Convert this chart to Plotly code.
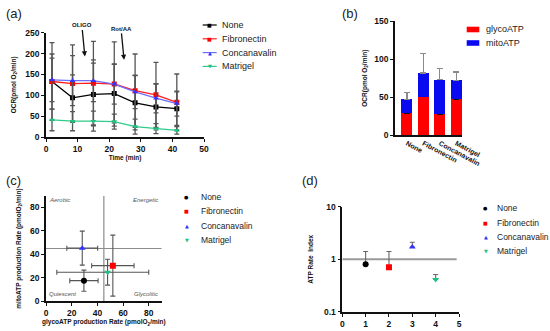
import plotly.graph_objects as go

W, H = 550, 331

# ---------------- data ----------------
series_names = ["None", "Fibronectin", "Concanavalin", "Matrigel"]
series_colors = ["#000000", "#FF2020", "#6F6FFF", "#2FCB8B"]
marker_colors = ["#000000", "#FF0000", "#3333FF", "#22C080"]
symbols_a = ["square", "square", "triangle-up", "triangle-down"]
symbols_cd = ["circle", "square", "triangle-up", "triangle-down"]
legend_glyphs = ["●", "■", "▲", "▼"]

# panel (a): OCR over time
time_min = [1.9, 8.4, 15.0, 21.6, 28.2, 34.8, 41.4]
ocr_none = [133, 94, 102, 104, 82, 72, 68]
ocr_fibro = [133, 128, 129, 127, 111, 101, 83]
ocr_conca = [137, 135, 135, 127, 108, 93, 80]
ocr_matri = [41, 38, 38, 37, 25, 20, 16]
err_none = [66, 55, 75, 70, 65, 55, 40]
err_fibro = [93, 93, 100, 101, 88, 78, 68]
err_conca = [52, 60, 50, 48, 40, 35, 30]
err_matri = [26, 23, 24, 18, 18, 12, 9]
ocr_series = [ocr_none, ocr_fibro, ocr_conca, ocr_matri]
ocr_errors = [err_none, err_fibro, err_conca, err_matri]
injection_labels = ["OLIGO", "Rot/AA"]
injection_times = [12.3, 24.7]
injection_ocr = [193, 185]

# panel (b): stacked ATP production
atp_groups = ["None", "Fibronectin", "Concanavalin", "Matrigel"]
glyco_atp = [28.6, 50.6, 27.7, 47.0]
mito_atp = [18.4, 31.2, 45.3, 25.0]
glyco_atp_err = [12, 17, 12, 22]
mito_atp_err = [9, 26, 15, 11]

# panel (c): energy map
glyco_rate = [29.5, 52.0, 28.2, 47.9]
mito_rate = [17.6, 30.4, 45.3, 24.8]
glyco_rate_err_plus = [11, 16.5, 12, 32]
glyco_rate_err_minus = [11, 16.5, 12, 39.5]
mito_rate_err = [9, 26, 14.5, 11]
quadrant_threshold = 45
map_limit = 90

# panel (d): ATP rate index
index_x = [1, 2, 3, 4]
atp_rate_index = [0.80, 0.70, 1.70, 0.41]
atp_rate_index_err = [0.60, 0.70, 0.40, 0.10]
index_reference = 1
index_ref_span = [0, 4.9]

FONT = "Liberation Sans, Arial, sans-serif"


def px(x):
    return x / W


def py(y):
    return 1 - y / H


fig = go.Figure()

# ---------- panel (a) ----------
for name, vals, errs, col, mcol, sym in zip(series_names, ocr_series, ocr_errors,
                                            series_colors, marker_colors, symbols_a):
    fig.add_trace(go.Scatter(
        x=time_min, y=vals, mode="lines+markers", name=name, showlegend=False,
        line=dict(color=col, width=1.3),
        marker=dict(symbol=sym, size=5, color=mcol),
        error_y=dict(type="data", array=errs, color="#555555", thickness=1.3, width=2.5),
        xaxis="x", yaxis="y"))

# ---------- panel (b) ----------
fig.add_trace(go.Bar(
    x=list(range(len(atp_groups))), y=glyco_atp, name="glycoATP", marker_color="#FF0000",
    width=0.67, showlegend=False, marker_line_width=0,
    error_y=dict(type="data", symmetric=False, array=glyco_atp_err,
                 arrayminus=[0] * len(glyco_atp_err), color="#111111", thickness=1.2, width=3),
    xaxis="x2", yaxis="y2"))
fig.add_trace(go.Bar(
    x=list(range(len(atp_groups))), y=mito_atp, name="mitoATP", marker_color="#0A0AF0",
    width=0.67, showlegend=False, marker_line_width=0,
    error_y=dict(type="data", symmetric=False, array=mito_atp_err,
                 arrayminus=[0] * len(mito_atp_err), color="#8a8a8a", thickness=1.2, width=3),
    xaxis="x2", yaxis="y2"))

# ---------- panel (c) ----------
fig.add_trace(go.Scatter(x=[quadrant_threshold, quadrant_threshold], y=[0, map_limit],
                         mode="lines", line=dict(color="#8c8c8c", width=1.2),
                         showlegend=False, hoverinfo="skip", xaxis="x3", yaxis="y3"))
fig.add_trace(go.Scatter(x=[0, map_limit], y=[quadrant_threshold, quadrant_threshold],
                         mode="lines", line=dict(color="#8c8c8c", width=1.2),
                         showlegend=False, hoverinfo="skip", xaxis="x3", yaxis="y3"))
for i, name in enumerate(series_names):
    fig.add_trace(go.Scatter(
        x=[glyco_rate[i]], y=[mito_rate[i]], mode="markers", name=name, showlegend=False,
        marker=dict(symbol=symbols_cd[i], size=6, color=marker_colors[i]),
        error_x=dict(type="data", symmetric=False, array=[glyco_rate_err_plus[i]],
                     arrayminus=[glyco_rate_err_minus[i]], color="#555555", thickness=1.1, width=2.5),
        error_y=dict(type="data", array=[mito_rate_err[i]], color="#555555", thickness=1.1, width=2.5),
        xaxis="x3", yaxis="y3"))

# ---------- panel (d) ----------
fig.add_trace(go.Scatter(x=index_ref_span, y=[index_reference, index_reference], mode="lines",
                         line=dict(color="#9a9a9a", width=2), showlegend=False,
                         hoverinfo="skip", xaxis="x4", yaxis="y4"))
for i, name in enumerate(series_names):
    fig.add_trace(go.Scatter(
        x=[index_x[i]], y=[atp_rate_index[i]], mode="markers", name=name, showlegend=False,
        marker=dict(symbol=symbols_cd[i], size=6, color=marker_colors[i]),
        error_y=dict(type="data", symmetric=False, array=[atp_rate_index_err[i]],
                     arrayminus=[0], color="#666666", thickness=1.1, width=2.5),
        xaxis="x4", yaxis="y4"))

# ---------- axes ----------
tickfont = dict(family=FONT, size=8.5, color="#111", weight="bold")
titlefont = dict(family=FONT, size=6.5, color="#111", weight="bold")
base = dict(showline=True, linecolor="#111", linewidth=1.6, ticks="outside", ticklen=3,
            tickwidth=1.4, tickcolor="#111", showgrid=False, zeroline=False,
            tickfont=tickfont, fixedrange=True, automargin=False)

fig.update_layout(
    template="none",
    xaxis=dict(base, domain=[px(46), px(204)], range=[0, 50], dtick=10, anchor="y",
               title=dict(text="Time (min)", font=titlefont, standoff=0)),
    yaxis=dict(base, domain=[py(137), py(32.7)], range=[0, 250], dtick=50, anchor="x",
               title=dict(text="OCR(pmol O<sub>2</sub>/min)", font=titlefont, standoff=8)),
    xaxis2=dict(base, domain=[px(395), px(462)], range=[-0.73, 3.35], anchor="y2",
                tickvals=list(range(len(atp_groups))), ticktext=atp_groups, tickangle=28,
                ticks="", tickfont=dict(tickfont, size=7)),
    yaxis2=dict(base, domain=[py(135), py(21.3)], range=[0, 150], dtick=50, anchor="x2",
                title=dict(text="OCR(pmol O<sub>2</sub>/min)", font=titlefont, standoff=6)),
    xaxis3=dict(base, domain=[px(46), px(161.7)], range=[0, map_limit], dtick=20, anchor="y3",
                title=dict(text="glycoATP production Rate (pmolO<sub>2</sub>/min)", font=titlefont, standoff=0)),
    yaxis3=dict(base, domain=[py(301.3), py(195.7)], range=[0, map_limit],
                tickvals=[0, 20, 40, 60, 80], anchor="x3",
                title=dict(text="mitoATP production Rate (pmolO<sub>2</sub>/min)", font=titlefont, standoff=8)),
    xaxis4=dict(base, domain=[px(342.3), px(459)], range=[0, 5], dtick=1, anchor="y4"),
    yaxis4=dict(base, type="log", domain=[py(311.7), py(206.7)], range=[-1, 1],
                tickvals=[0.1, 1, 10], ticktext=["0.1", "1", "10"], anchor="x4",
                title=dict(text="ATP Rate  Index", font=titlefont, standoff=10)),
    barmode="stack",
    width=W, height=H, margin=dict(l=0, r=0, t=0, b=0, autoexpand=False),
    paper_bgcolor="white", plot_bgcolor="white", showlegend=False,
)

ann = []
shapes = []
# panel labels
for lbl, x, y in [("(a)", 4, 13), ("(b)", 340, 13), ("(c)", 4, 180), ("(d)", 300, 180)]:
    ann.append(dict(text=lbl, x=px(x), y=py(y), xref="paper", yref="paper", xanchor="left",
                    yanchor="middle", showarrow=False, font=dict(family=FONT, size=13, color="#222")))

# injection arrows (a)
for lbl, t, o in zip(injection_labels, injection_times, injection_ocr):
    ann.append(dict(x=t, y=o, xref="x", yref="y", ax=-3, ay=-31, axref="pixel", ayref="pixel",
                    text=lbl, showarrow=True, arrowhead=2, arrowsize=0.8, arrowwidth=1.3,
                    arrowcolor="#111", standoff=0, startstandoff=0,
                    font=dict(family=FONT, size=6, color="#111", weight="bold")))

legfont = dict(family=FONT, size=9, color="#222")

# legend (a)
for i, name in enumerate(series_names):
    y = 25 + i * 13.8
    shapes.append(dict(type="line", xref="paper", yref="paper", x0=px(202.7), x1=px(216.7),
                       y0=py(y), y1=py(y), line=dict(color=series_colors[i], width=1.2)))
    ann.append(dict(text=legend_glyphs[1] if i < 2 else legend_glyphs[i], x=px(209.7), y=py(y),
                    xref="paper", yref="paper", showarrow=False, xanchor="center", yanchor="middle",
                    font=dict(family="DejaVu Sans", size=5, color=marker_colors[i])))
    ann.append(dict(text=name, x=px(220), y=py(y), xref="paper", yref="paper", showarrow=False,
                    xanchor="left", yanchor="middle", font=legfont))

# legend (b)
for i, (name, col) in enumerate([("glycoATP", "#FF0000"), ("mitoATP", "#0A0AF0")]):
    y = 29.5 + i * 13.5
    shapes.append(dict(type="rect", xref="paper", yref="paper", x0=px(466.7), x1=px(479.3),
                       y0=py(y - 2.8), y1=py(y + 2.8), fillcolor=col, line=dict(width=0)))
    ann.append(dict(text=name, x=px(483.5), y=py(y), xref="paper", yref="paper", showarrow=False,
                    xanchor="left", yanchor="middle", font=legfont))

# legends (c) and (d)
for x0, xt, y0 in [(186.5, 198.5, 197), (485.7, 494.5, 208.3)]:
    for i, name in enumerate(series_names):
        y = y0 + i * 14.3
        ann.append(dict(text=legend_glyphs[i], x=px(x0), y=py(y), xref="paper", yref="paper",
                        showarrow=False, xanchor="center", yanchor="middle",
                        font=dict(family="DejaVu Sans", size=5, color=marker_colors[i])))
        ann.append(dict(text=name, x=px(xt), y=py(y), xref="paper", yref="paper", showarrow=False,
                        xanchor="left", yanchor="middle", font=dict(legfont, size=8.5)))

# quadrant labels (c)
qfont = dict(family=FONT, size=6, color="#555")
for txt, x, y, anchor in [("<i>Aerobic</i>", 1, 86, "left"), ("<i>Energetic</i>", 89, 86, "right"),
                          ("<i>Quiescent</i>", 1, 6, "left"), ("<i>Glycolitic</i>", 89, 6, "right")]:
    ann.append(dict(text=txt, x=x, y=y, xref="x3", yref="y3", showarrow=False, xanchor=anchor,
                    yanchor="middle", font=qfont))

fig.update_layout(annotations=ann, shapes=shapes)
fig.write_html("out.html", config={"displayModeBar": False},
               post_script="document.body.style.margin='0';document.body.style.overflow='hidden';")
